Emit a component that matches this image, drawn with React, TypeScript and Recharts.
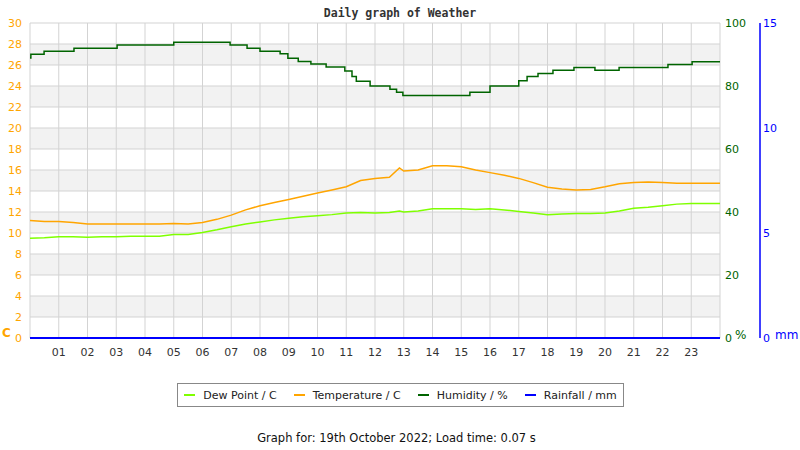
import { LineChart, Line, XAxis, YAxis, CartesianGrid } from 'recharts';

// half-hourly readings (hour of day)
const tempHours = [
  0, 0.5, 1, 1.5, 2, 2.5, 3, 3.5, 4, 4.5, 5, 5.5, 6, 6.5, 7, 7.5, 8, 8.5, 9, 9.5, 10, 10.5, 11, 11.5,
  12, 12.5, 12.85, 13, 13.5, 14, 14.5, 15, 15.5, 16, 16.5, 17, 17.5, 18, 18.5, 19, 19.5, 20, 20.5, 21,
  21.5, 22, 22.5, 23, 23.5, 24,
];
const temperature = [
  11.2, 11.1, 11.1, 11.0, 10.85, 10.85, 10.85, 10.85, 10.85, 10.85, 10.9, 10.85, 11.0, 11.3, 11.7, 12.2,
  12.6, 12.9, 13.2, 13.5, 13.8, 14.1, 14.4, 15.0, 15.2, 15.3, 16.2, 15.9, 16.0, 16.4, 16.4, 16.3, 16.0,
  15.75, 15.5, 15.2, 14.8, 14.35, 14.2, 14.1, 14.15, 14.4, 14.7, 14.8, 14.85, 14.8, 14.75, 14.75, 14.73,
  14.73,
];
const dewPoint = [
  9.5, 9.55, 9.65, 9.65, 9.6, 9.65, 9.65, 9.7, 9.7, 9.7, 9.85, 9.85, 10.05, 10.3, 10.6, 10.85, 11.05,
  11.25, 11.4, 11.55, 11.65, 11.75, 11.9, 11.95, 11.9, 11.95, 12.1, 12.0, 12.1, 12.3, 12.3, 12.3, 12.25,
  12.3, 12.2, 12.05, 11.9, 11.75, 11.8, 11.85, 11.85, 11.9, 12.1, 12.35, 12.45, 12.6, 12.75, 12.8, 12.8,
  12.8,
];

// humidity changes (step values)
const humHours = [
  0, 0.03, 0.49, 1.53, 3.03, 5.0, 6.96, 7.55, 8.0, 8.7, 8.97, 9.33, 9.77, 10.3, 10.95, 11.2, 11.35,
  11.83, 12.52, 12.75, 12.97, 15.3, 16.0, 17.0, 17.29, 17.67, 18.19, 18.92, 19.65, 20.49, 22.19, 23.03, 24,
];
const humidity = [
  88.9, 90.1, 91.0, 92.0, 93.0, 93.9, 93.0, 92.0, 91.0, 90.2, 88.8, 87.8, 87.0, 86.0, 84.8, 83.0, 81.5,
  80.0, 79.0, 78.0, 77.0, 78.0, 80.0, 81.7, 83.0, 84.0, 85.0, 85.9, 85.0, 85.9, 86.8, 87.7, 87.7,
];

const rainHours = [0, 24];
const rainfall = [0, 0];

const hourTicks = [0, 1, 2, 3, 4, 5, 6, 7, 8, 9, 10, 11, 12, 13, 14, 15, 16, 17, 18, 19, 20, 21, 22, 23, 24];
const tempTicks = [0, 2, 4, 6, 8, 10, 12, 14, 16, 18, 20, 22, 24, 26, 28, 30];
const humTicks = [0, 20, 40, 60, 80, 100];
const rainTicks = [0, 5, 10, 15];

const legendItems = [
  { name: 'Dew Point / C', color: '#7fff00' },
  { name: 'Temperature / C', color: '#ffa500' },
  { name: 'Humidity / %', color: '#006400' },
  { name: 'Rainfall / mm', color: '#0000ff' },
];

type Row = { hour: number; [key: string]: number };

const rows = new Map<number, Row>();
const put = (hours: number[], values: number[], key: string) => {
  hours.forEach((h, i) => {
    const r = rows.get(h) ?? { hour: h };
    r[key] = values[i];
    rows.set(h, r);
  });
};
put(tempHours, temperature, 'temp');
put(tempHours, dewPoint, 'dew');
put(humHours, humidity, 'hum');
put(rainHours, rainfall, 'rain');
const data = [...rows.values()].sort((a, b) => a.hour - b.hour);

const font = '"DejaVu Sans", sans-serif';

export default function App() {
  return (
    <div style={{ position: 'relative', width: 800, height: 450, fontFamily: font, background: '#fff' }}>
      <style>{'body{margin:0}'}</style>
      <LineChart width={800} height={370} data={data} margin={{ top: 23, right: 0, left: 0, bottom: 0 }}>
        <CartesianGrid
          yAxisId="temp"
          stroke="#d3d3d3"
          horizontalFill={['#ffffff', '#f2f2f2']}
          fillOpacity={1}
        />
        <XAxis
          dataKey="hour"
          type="number"
          domain={[0, 24]}
          ticks={hourTicks}
          interval={0}
          axisLine={false}
          tickLine={false}
          tickSize={0}
          tickMargin={10}
          height={32}
          tick={{ fill: '#333', fontSize: 11, fontFamily: font }}
          tickFormatter={(v: number) => (v === 0 || v === 24 ? '' : String(v).padStart(2, '0'))}
        />
        <YAxis
          yAxisId="temp"
          domain={[0, 30]}
          ticks={tempTicks}
          interval={0}
          width={30}
          axisLine={false}
          tickLine={false}
          tickSize={0}
          tickMargin={8}
          tick={{ fill: '#ffa500', fontSize: 11, fontFamily: font }}
        />
        <YAxis
          yAxisId="hum"
          orientation="right"
          domain={[0, 100]}
          ticks={humTicks}
          interval={0}
          width={40}
          axisLine={false}
          tickLine={false}
          tickSize={0}
          tickMargin={5}
          tick={{ fill: '#006400', fontSize: 11, fontFamily: font }}
        />
        <YAxis
          yAxisId="rain"
          orientation="right"
          domain={[0, 15]}
          ticks={rainTicks}
          interval={0}
          width={40}
          axisLine={{ stroke: '#0000ff', strokeWidth: 1.5 }}
          tickLine={false}
          tickSize={0}
          tickMargin={3}
          tick={{ fill: '#0000ff', fontSize: 11, fontFamily: font }}
        />
        <Line yAxisId="hum" dataKey="hum" type="stepAfter" stroke="#006400" strokeWidth={1.5} dot={false} connectNulls isAnimationActive={false} />
        <Line yAxisId="temp" dataKey="temp" type="linear" stroke="#ffa500" strokeWidth={1.5} dot={false} connectNulls isAnimationActive={false} />
        <Line yAxisId="temp" dataKey="dew" type="linear" stroke="#7fff00" strokeWidth={1.5} dot={false} connectNulls isAnimationActive={false} />
        <Line yAxisId="rain" dataKey="rain" type="linear" stroke="#0000ff" strokeWidth={2} dot={false} connectNulls isAnimationActive={false} />
      </LineChart>

      <div style={{ position: 'absolute', left: 0, top: 6, width: 800, textAlign: 'center', fontFamily: '"DejaVu Sans Mono", monospace', fontWeight: 'bold', fontSize: 11.5, color: '#333' }}>
        Daily graph of Weather
      </div>
      <div style={{ position: 'absolute', left: 2, top: 326, fontSize: 12, fontWeight: 'bold', color: '#ffa500' }}>C</div>
      <div style={{ position: 'absolute', left: 735, top: 328, fontSize: 12, color: '#006400' }}>%</div>
      <div style={{ position: 'absolute', left: 775, top: 328, fontSize: 12, color: '#0000ff' }}>mm</div>

      <div
        style={{
          position: 'absolute', left: 177, top: 383, width: 447, height: 24, boxSizing: 'border-box',
          border: '1px solid #888', display: 'flex', alignItems: 'center', justifyContent: 'center', gap: 17,
          fontSize: 11, color: '#222',
        }}
      >
        {legendItems.map((item) => (
          <div key={item.name} style={{ display: 'flex', alignItems: 'center', gap: 8 }}>
            <span style={{ display: 'inline-block', width: 11, height: 2, background: item.color }} />
            <span>{item.name}</span>
          </div>
        ))}
      </div>

      <div style={{ position: 'absolute', left: 0, top: 431, width: 793, textAlign: 'center', fontSize: 11.5, color: '#111' }}>
        Graph for: 19th October 2022; Load time: 0.07 s
      </div>
    </div>
  );
}
